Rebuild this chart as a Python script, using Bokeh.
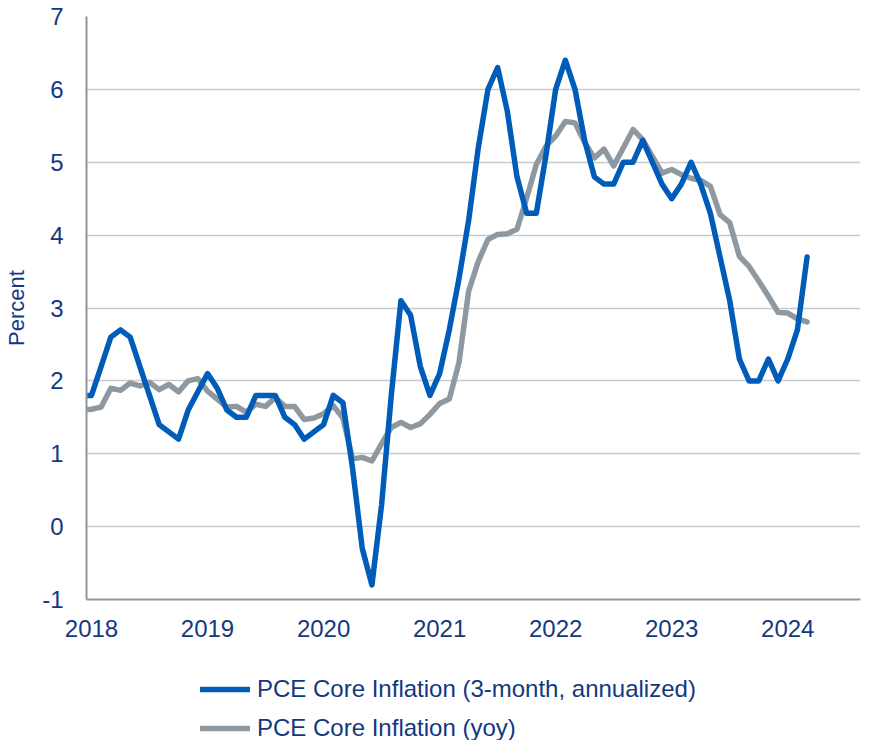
import pandas as pd
from bokeh.plotting import figure
from bokeh.layouts import column
from bokeh.models import Legend, LegendItem, FixedTicker, Range1d
from bokeh.embed import file_html
from bokeh.resources import INLINE

# ---------------- data (monthly, starting Dec 2017) ----------------
first_month = "2017-12"
core_3m_annualized = [
    1.8,
    1.8, 2.2, 2.6, 2.7, 2.6, 2.2, 1.8, 1.4, 1.3, 1.2, 1.6, 1.85,          # 2018
    2.1, 1.9, 1.6, 1.5, 1.5, 1.8, 1.8, 1.8, 1.5, 1.4, 1.2, 1.3,           # 2019
    1.4, 1.8, 1.7, 0.8, -0.3, -0.8, 0.3, 1.8, 3.1, 2.9, 2.2, 1.8,         # 2020
    2.1, 2.7, 3.4, 4.2, 5.2, 6.0, 6.3, 5.7, 4.8, 4.3, 4.3, 5.1,           # 2021
    6.0, 6.4, 6.0, 5.3, 4.8, 4.7, 4.7, 5.0, 5.0, 5.3, 5.0, 4.7,           # 2022
    4.5, 4.7, 5.0, 4.7, 4.3, 3.7, 3.1, 2.3, 2.0, 2.0, 2.3, 2.0,           # 2023
    2.3, 2.7, 3.7,                                                        # 2024
]
core_yoy = [
    1.6,
    1.61, 1.64, 1.9, 1.87, 1.97, 1.93, 1.98, 1.88, 1.95, 1.85, 2.0, 2.03,  # 2018
    1.86, 1.75, 1.64, 1.65, 1.57, 1.68, 1.65, 1.77, 1.65, 1.65, 1.47, 1.49,  # 2019
    1.55, 1.66, 1.49, 0.93, 0.95, 0.9, 1.14, 1.36, 1.43, 1.36, 1.41, 1.54,  # 2020
    1.69, 1.75, 2.25, 3.23, 3.64, 3.94, 4.01, 4.02, 4.08, 4.51, 4.97, 5.22,  # 2021
    5.36, 5.56, 5.54, 5.27, 5.06, 5.18, 4.95, 5.2, 5.45, 5.31, 5.08, 4.85,  # 2022
    4.9, 4.83, 4.78, 4.75, 4.67, 4.28, 4.17, 3.71, 3.57, 3.37, 3.16, 2.94,  # 2023
    2.93, 2.85, 2.81,                                                      # 2024
]
year_ticks = [2018, 2019, 2020, 2021, 2022, 2023, 2024]
y_ticks = [-1, 0, 1, 2, 3, 4, 5, 6, 7]
series_names = ["PCE Core Inflation (3-month, annualized)", "PCE Core Inflation (yoy)"]
y_title = "Percent"

# ---------------- styling ----------------
BLUE = "#005CB9"
GRAY = "#8E98A0"
TEXT = "#12397F"
GRID = "#C4C9CE"
AXIS = "#8E979F"
FONT = "Liberation Sans"
LW = 5.5

months = pd.period_range(first_month, periods=len(core_3m_annualized), freq="M")
xs = [m.year + (m.month - 1) / 12 for m in months]

p = figure(
    width=861, height=660,
    output_backend="svg", toolbar_location=None,
    x_range=Range1d(2017.957, 2024.627), y_range=Range1d(-1, 7),
    min_border_left=86, min_border_right=1, min_border_top=16, min_border_bottom=61,
)
p.outline_line_color = None
p.background_fill_color = "white"
p.border_fill_color = "white"

p.xgrid.visible = False
p.ygrid.grid_line_color = GRID
p.ygrid.grid_line_width = 1.5

p.yaxis.ticker = FixedTicker(ticks=y_ticks)
p.xaxis.ticker = FixedTicker(ticks=year_ticks)
p.xaxis.major_label_overrides = {y: str(y) for y in year_ticks}
p.yaxis.major_label_overrides = {v: str(v) for v in y_ticks}

for ax in (p.xaxis, p.yaxis):
    ax.axis_line_color = AXIS
    ax.axis_line_width = 2
    ax.major_tick_line_color = None
    ax.minor_tick_line_color = None
    ax.major_tick_out = 0
    ax.major_tick_in = 0
    ax.major_label_text_font = FONT
    ax.major_label_text_font_size = "24px"
    ax.major_label_text_color = TEXT
p.yaxis.major_label_standoff = 23
p.xaxis.major_label_standoff = 20

p.yaxis.axis_label = y_title
p.yaxis.axis_label_standoff = 10
p.yaxis.axis_label_text_font = FONT
p.yaxis.axis_label_text_font_size = "22px"
p.yaxis.axis_label_text_font_style = "normal"
p.yaxis.axis_label_text_color = TEXT

p.line(xs, core_yoy, line_color=GRAY, line_width=LW, line_join="round", line_cap="round")
p.line(xs, core_3m_annualized, line_color=BLUE, line_width=LW, line_join="round", line_cap="round")

# ---------------- legend strip below the chart ----------------
# (the series are re-used here only to give the legend its swatches; they lie
#  outside this strip's ranges, so nothing but the legend is visible)
leg = figure(
    width=861, height=80, output_backend="svg", toolbar_location=None,
    x_range=Range1d(0, 1), y_range=Range1d(0, 1), min_border=0,
)
leg.axis.visible = False
leg.grid.visible = False
leg.outline_line_color = None
leg.background_fill_color = "white"
leg.border_fill_color = "white"
sw_blue = leg.line(xs, core_3m_annualized, line_color=BLUE, line_width=LW, line_cap="round")
sw_gray = leg.line(xs, core_yoy, line_color=GRAY, line_width=LW, line_cap="round")

legend = Legend(
    items=[LegendItem(label=series_names[0], renderers=[sw_blue]),
           LegendItem(label=series_names[1], renderers=[sw_gray])],
    location=(114, -2), orientation="vertical",
    glyph_width=50, glyph_height=28, label_height=28, spacing=11,
    padding=0, margin=0, label_standoff=7,
    border_line_alpha=0, background_fill_alpha=0,
    label_text_font=FONT, label_text_font_size="24px", label_text_color=TEXT,
)
leg.add_layout(legend)

layout = column(p, leg, spacing=0)
open("out.html", "w").write(file_html(layout, INLINE))
